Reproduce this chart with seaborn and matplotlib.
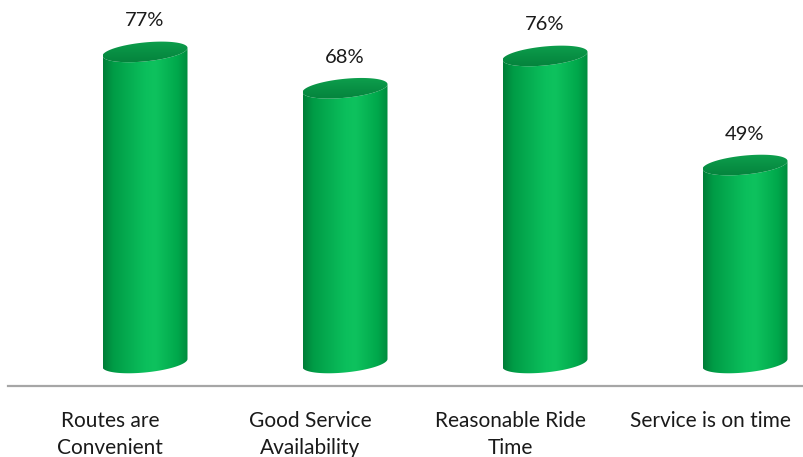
import numpy as np
import pandas as pd
import matplotlib
matplotlib.use("Agg")
import matplotlib.pyplot as plt
import matplotlib.transforms as mtransforms
import seaborn as sns
from matplotlib.path import Path
from matplotlib.patches import PathPatch
from matplotlib.colors import LinearSegmentedColormap

categories = ["Routes are\nConvenient", "Good Service\nAvailability",
              "Reasonable Ride\nTime", "Service is on time"]
values = [77, 68, 76, 49]
value_labels = ["77%", "68%", "76%", "49%"]

sns.set_theme(style="white")
plt.rcParams['font.family'] = ['Lato', 'DejaVu Sans']

W, H = 804, 457
AX_BOTTOM_PX = 386
fig = plt.figure(figsize=(W / 100, H / 100), dpi=100)
ax = fig.add_axes([0, 1 - AX_BOTTOM_PX / H, 1, AX_BOTTOM_PX / H])

df = pd.DataFrame({"cat": categories, "val": values})
sns.barplot(data=df, x="cat", y="val", width=0.425, ax=ax, color="#00b050")

XLIM = (-0.725, 3.295)
YLIM = (-5.7, 89.85)
ax.set_xlim(*XLIM)
ax.set_ylim(*YLIM)
YPX = AX_BOTTOM_PX / (YLIM[1] - YLIM[0])  # pixels per data unit
b = 9.5 / YPX
k = 4.0 / YPX

body_cmap = LinearSegmentedColormap.from_list(
    "body", [(0, "#007d38"), (0.12, "#009c46"), (0.5, "#0bbf5c"),
             (0.62, "#0ec25e"), (0.88, "#00a84b"), (1, "#008c3f")])
top_cmap = LinearSegmentedColormap.from_list(
    "top", [(0, "#04803b"), (0.5, "#089044"), (0.85, "#0d9d4c"), (1, "#14a956")])

grad_h = np.tile(np.linspace(0, 1, 256), (2, 1))
grad_v = np.tile(np.linspace(0, 1, 256)[:, None], (1, 2))

patches = list(ax.patches)
for i, p in enumerate(patches):
    x0 = p.get_x()
    w = p.get_width()
    h = p.get_height()
    cx = x0 + w / 2
    a = w / 2
    p.set_visible(False)

    tb = np.linspace(np.pi, 2 * np.pi, 120)
    xb = cx + a * np.cos(tb)
    yb = b * np.sin(tb) + k * np.cos(tb)
    tt = np.linspace(2 * np.pi, np.pi, 120)
    xt = cx + a * np.cos(tt)
    yt = h + b * np.sin(tt) + k * np.cos(tt)
    verts = np.vstack([np.column_stack([xb, yb]), np.column_stack([xt, yt]),
                       [[xb[0], yb[0]]]])
    codes = [Path.MOVETO] + [Path.LINETO] * (len(verts) - 2) + [Path.CLOSEPOLY]
    body = PathPatch(Path(verts, codes), facecolor="none", edgecolor="none")
    ax.add_patch(body)
    im = ax.imshow(grad_h, cmap=body_cmap, aspect="auto",
                   extent=[x0, x0 + w, -k - b, h + k + b], zorder=2,
                   interpolation="bicubic")
    im.set_clip_path(body)

    tf = np.linspace(0, 2 * np.pi, 200)
    xf = cx + a * np.cos(tf)
    yf = h + b * np.sin(tf) + k * np.cos(tf)
    fverts = np.column_stack([xf, yf])
    fcodes = [Path.MOVETO] + [Path.LINETO] * (len(fverts) - 2) + [Path.CLOSEPOLY]
    top = PathPatch(Path(fverts, fcodes), facecolor="none", edgecolor="none")
    ax.add_patch(top)
    im2 = ax.imshow(grad_v, cmap=top_cmap, aspect="auto",
                    extent=[x0, x0 + w, h + k + b, h - k - b], zorder=3,
                    interpolation="bicubic")
    im2.set_clip_path(top)

    ax.annotate(value_labels[i], (cx, h), xytext=(0, 31 * 0.72),
                textcoords="offset points", ha="center", va="center",
                fontsize=14.5, color="#1a1a1a")

ax.set_xlim(*XLIM)
ax.set_ylim(*YLIM)
ax.set_xticks(range(len(categories)))
ax.set_xticklabels(categories, fontsize=15, linespacing=1.45, color="#1a1a1a")
ax.tick_params(axis="x", length=0, pad=18)
shift = mtransforms.ScaledTranslation(-0.35, 0, fig.dpi_scale_trans)
for lbl in ax.get_xticklabels():
    lbl.set_transform(lbl.get_transform() + shift)
ax.set_yticks([])
ax.set_xlabel("")
ax.set_ylabel("")
for s in ["left", "top", "right"]:
    ax.spines[s].set_visible(False)
ax.spines["bottom"].set_color("#a6a6a6")
ax.spines["bottom"].set_linewidth(1.6)
ax.spines["bottom"].set_bounds((8 - 145) / 200, XLIM[1])
ax.set_facecolor("white")

fig.savefig("out.png", dpi=100)
